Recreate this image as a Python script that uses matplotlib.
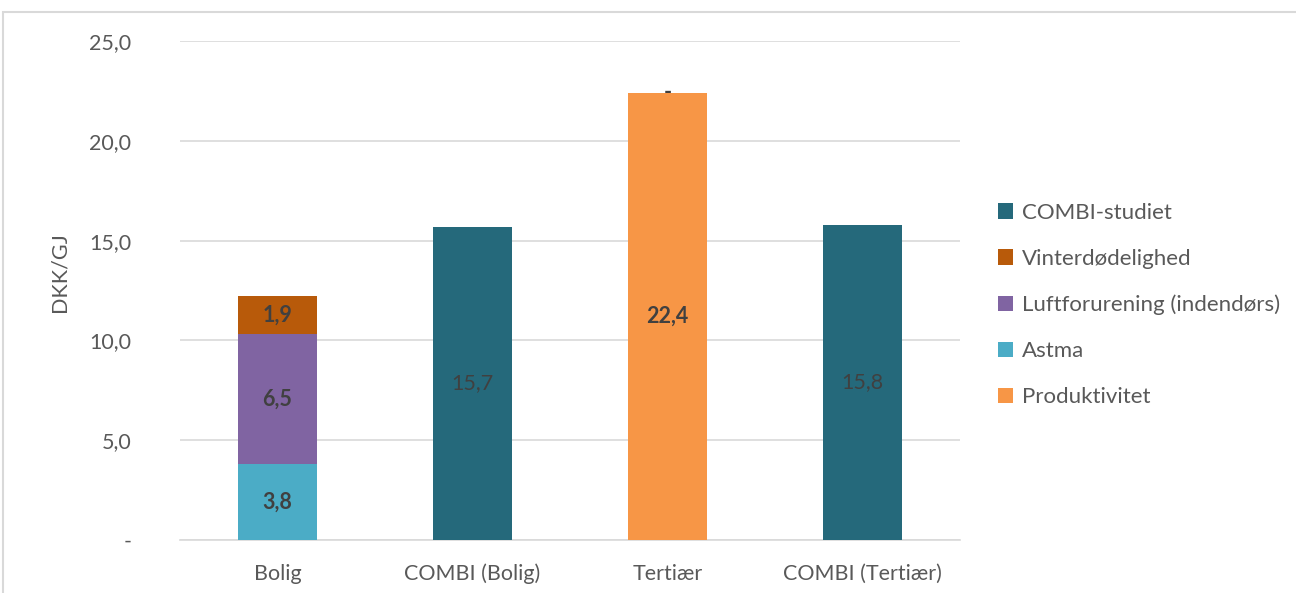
import matplotlib
matplotlib.use("Agg")
import matplotlib.pyplot as plt
from matplotlib.patches import Rectangle, Patch

plt.rcParams['font.family'] = ['Lato', 'DejaVu Sans']

categories = ["Bolig", "COMBI (Bolig)", "Tertiær", "COMBI (Tertiær)"]
# stacked series, bottom to top
series_names = ["Produktivitet", "Astma", "Luftforurening (indendørs)", "Vinterdødelighed", "COMBI-studiet"]
produktivitet = [None, None, 22.4, None]
astma = [3.8, None, None, None]
luftforurening = [6.5, None, None, None]
vinterdoedelighed = [1.9, None, 0.0, None]
combi = [None, 15.7, None, 15.8]

series_values = [produktivitet, astma, luftforurening, vinterdoedelighed, combi]
series_colors = ["#F79646", "#4BACC6", "#8064A2", "#B85A0A", "#25697B"]
label_bold = [True, True, True, True, False]

yticks = [0, 5, 10, 15, 20, 25]
ytick_labels = ["-", "5,0", "10,0", "15,0", "20,0", "25,0"]

fig = plt.figure(figsize=(12.96, 5.93), dpi=100)
ax = fig.add_axes([180/1296, 1-540/593, 780/1296, 499/593])

x = list(range(len(categories)))
bottoms = [0.0] * len(categories)
width = 0.405
txt_color = "#404040"

def fmt(v):
    if v == 0:
        return "-"
    return f"{v:.1f}".replace(".", ",")

for vals, color, bold in zip(series_values, series_colors, label_bold):
    for i, v in enumerate(vals):
        if v is None:
            continue
        ax.bar(i, v, width=width, bottom=bottoms[i], color=color, zorder=3)
        ax.text(i, bottoms[i] + v / 2, fmt(v), ha="center", va="center",
                fontsize=15.5, color=txt_color,
                fontweight="bold" if bold else "normal", zorder=4)
        bottoms[i] += v

ax.set_xlim(-0.5, 3.5)
ax.set_ylim(0, 25)
ax.set_yticks(yticks)
ax.set_yticklabels(ytick_labels)
ax.set_xticks(x)
ax.set_xticklabels(categories)
ax.grid(axis="y", color="#D9D9D9", linewidth=1.2, zorder=0)
ax.set_axisbelow(True)
for s in ["top", "right", "left"]:
    ax.spines[s].set_visible(False)
ax.spines["bottom"].set_color("#D9D9D9")
ax.spines["bottom"].set_linewidth(1.2)
ax.tick_params(axis="both", length=0, labelsize=15.5, colors="#595959")
ax.tick_params(axis="y", pad=35)
ax.tick_params(axis="x", pad=17)
for lbl in ax.get_yticklabels():
    lbl.set_horizontalalignment("right")
ax.set_ylabel("DKK/GJ", fontsize=15.5, color="#595959")
ax.yaxis.set_label_coords(-111/780, (540-272)/499)

handles = [Patch(facecolor=c) for c in series_colors[::-1]]
leg = fig.legend(handles, series_names[::-1], loc="center left",
                 bbox_to_anchor=(978/1296, 1-305/593), frameon=False,
                 fontsize=16, labelcolor="#595959", handlelength=0.68,
                 handleheight=0.68, handletextpad=0.38, labelspacing=1.17)

fig.patches.append(Rectangle((3/1296, -0.05), 1.2, 1-12/593+0.05,
                             transform=fig.transFigure, fill=False,
                             edgecolor="#D9D9D9", linewidth=1.5))

fig.savefig("out.png", dpi=100)
